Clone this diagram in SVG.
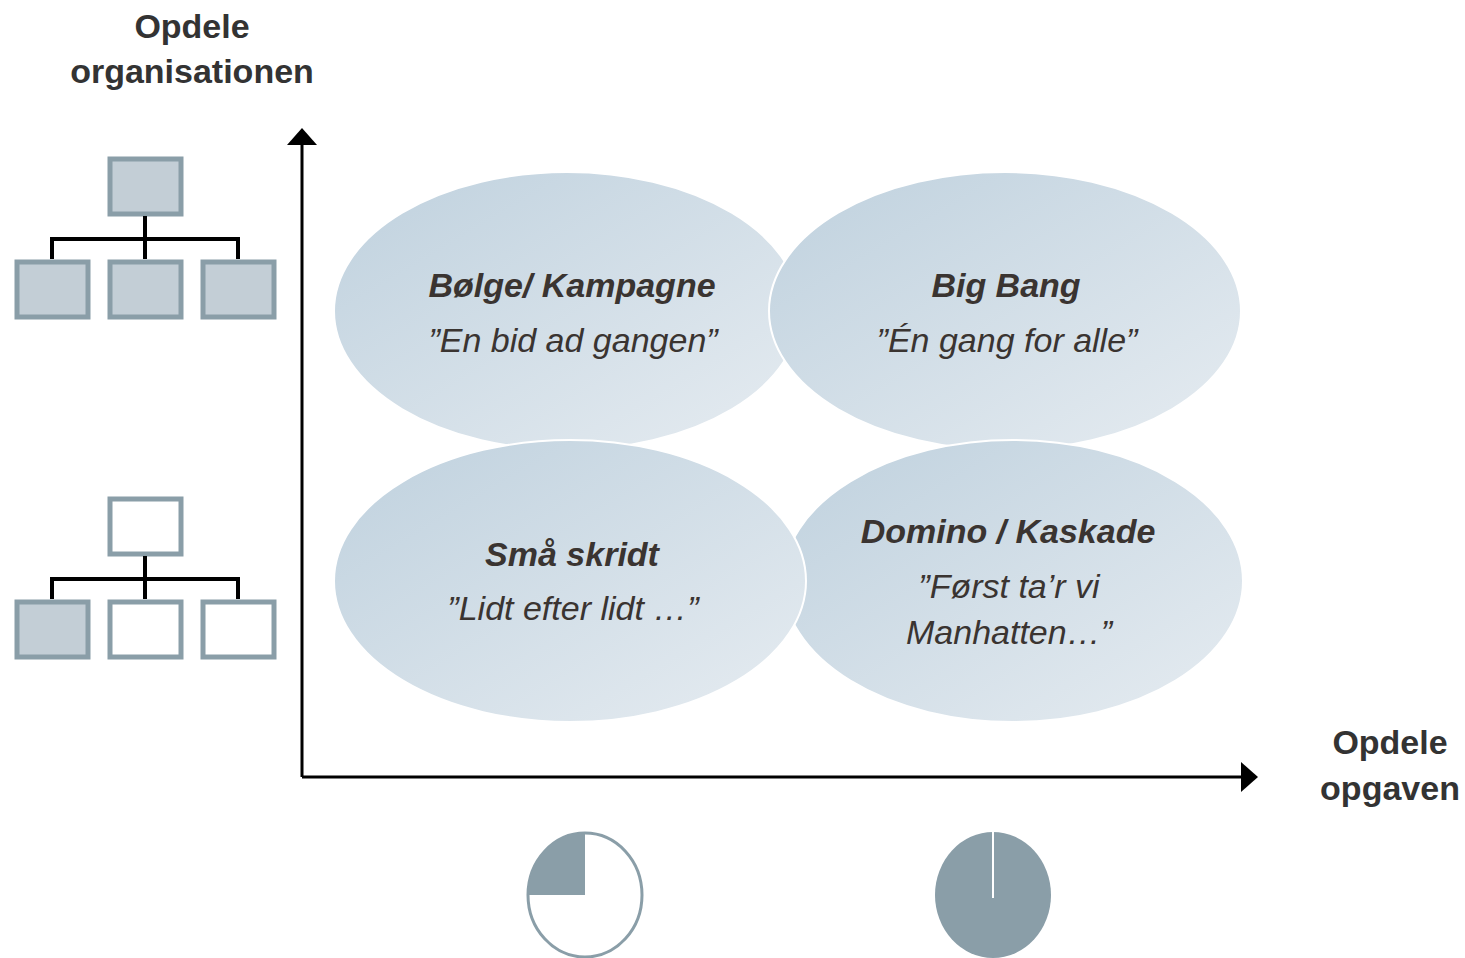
<svg xmlns="http://www.w3.org/2000/svg" width="1465" height="958" viewBox="0 0 1465 958">
<defs>
<linearGradient id="g" x1="0" y1="0" x2="1" y2="1">
<stop offset="0" stop-color="#bfd1de"/>
<stop offset="1" stop-color="#e6ecf1"/>
</linearGradient>
<marker id="ah" viewBox="0 0 17 30" refX="2" refY="15" markerWidth="17" markerHeight="30" markerUnits="userSpaceOnUse" orient="auto">
<path d="M0,0 L17,15 L0,30 z" fill="#000"/>
</marker>
<style>
.lbl{font-family:"Liberation Sans",Arial,sans-serif;font-weight:bold;font-size:34px;fill:#333;text-anchor:middle}
.t{font-family:"Liberation Sans",Arial,sans-serif;font-weight:bold;font-style:italic;font-size:34px;fill:#3a3431;text-anchor:middle}
.s{font-family:"Liberation Sans",Arial,sans-serif;font-style:italic;font-size:34px;fill:#3a3431;text-anchor:middle}
.el{fill:url(#g);stroke:#fff;stroke-width:2}
.bx{stroke:#8a9ea8;stroke-width:5}
.f{fill:#c3ced6}
.w{fill:#fff}
.cn{fill:none;stroke:#000;stroke-width:4}
</style>
</defs>
<rect width="1465" height="958" fill="#fff"/>

<text class="lbl" x="192" y="38">Opdele</text>
<text class="lbl" x="192" y="83">organisationen</text>
<text class="lbl" x="1390" y="754">Opdele</text>
<text class="lbl" x="1390" y="800">opgaven</text>

<g id="org1">
<rect class="bx f" x="110" y="159" width="71" height="55"/>
<rect class="bx f" x="17" y="262" width="71" height="55"/>
<rect class="bx f" x="110" y="262" width="71" height="55"/>
<rect class="bx f" x="203" y="262" width="71" height="55"/>
<path class="cn" d="M145,216 V259 M52,259 V239 H238 V259"/>
</g>
<g id="org2">
<rect class="bx w" x="110" y="499" width="71" height="55"/>
<rect class="bx f" x="17" y="602" width="71" height="55"/>
<rect class="bx w" x="110" y="602" width="71" height="55"/>
<rect class="bx w" x="203" y="602" width="71" height="55"/>
<path class="cn" d="M145,556 V599 M52,599 V579 H238 V599"/>
</g>

<g id="connectors">
<line x1="302" y1="777" x2="302" y2="143" stroke="#000" stroke-width="3" marker-end="url(#ah)"/>
<line x1="302" y1="777" x2="1243" y2="777" stroke="#000" stroke-width="3" marker-end="url(#ah)"/>
</g>

<g id="n-tl">
<ellipse class="el" cx="567" cy="311" rx="233" ry="139"/>
</g>
<g id="n-tr">
<ellipse class="el" cx="1005" cy="311" rx="236" ry="139"/>
</g>
<g id="n-br">
<ellipse class="el" cx="1013" cy="581" rx="230" ry="141"/>
</g>
<g id="n-bl">
<ellipse class="el" cx="570" cy="581" rx="236" ry="141"/>
</g>
<g id="labels">
<text class="t" x="572" y="297">Bølge/ Kampagne</text>
<text class="s" x="573" y="352">”En bid ad gangen”</text>
<text class="t" x="1006" y="297">Big Bang</text>
<text class="s" x="1007" y="352">”Én gang for alle”</text>
<text class="t" x="572" y="566">Små skridt</text>
<text class="s" x="573" y="620">”Lidt efter lidt …”</text>
<text class="t" x="1008" y="543">Domino / Kaskade</text>
<text class="s" x="1009" y="598">”Først ta’r vi</text>
<text class="s" x="1009" y="644">Manhatten…”</text>
</g>

<g id="pie1">
<ellipse cx="585" cy="895" rx="57" ry="62" fill="#fff" stroke="#8a9ea8" stroke-width="3"/>
<path d="M585,895 V833 A57,62 0 0 0 528,895 Z" fill="#8a9ea8"/>
</g>
<g id="pie2">
<ellipse cx="993" cy="895" rx="58" ry="63" fill="#8a9ea8"/>
<line x1="993" y1="831" x2="993" y2="898" stroke="#fff" stroke-width="2"/>
</g>
</svg>
